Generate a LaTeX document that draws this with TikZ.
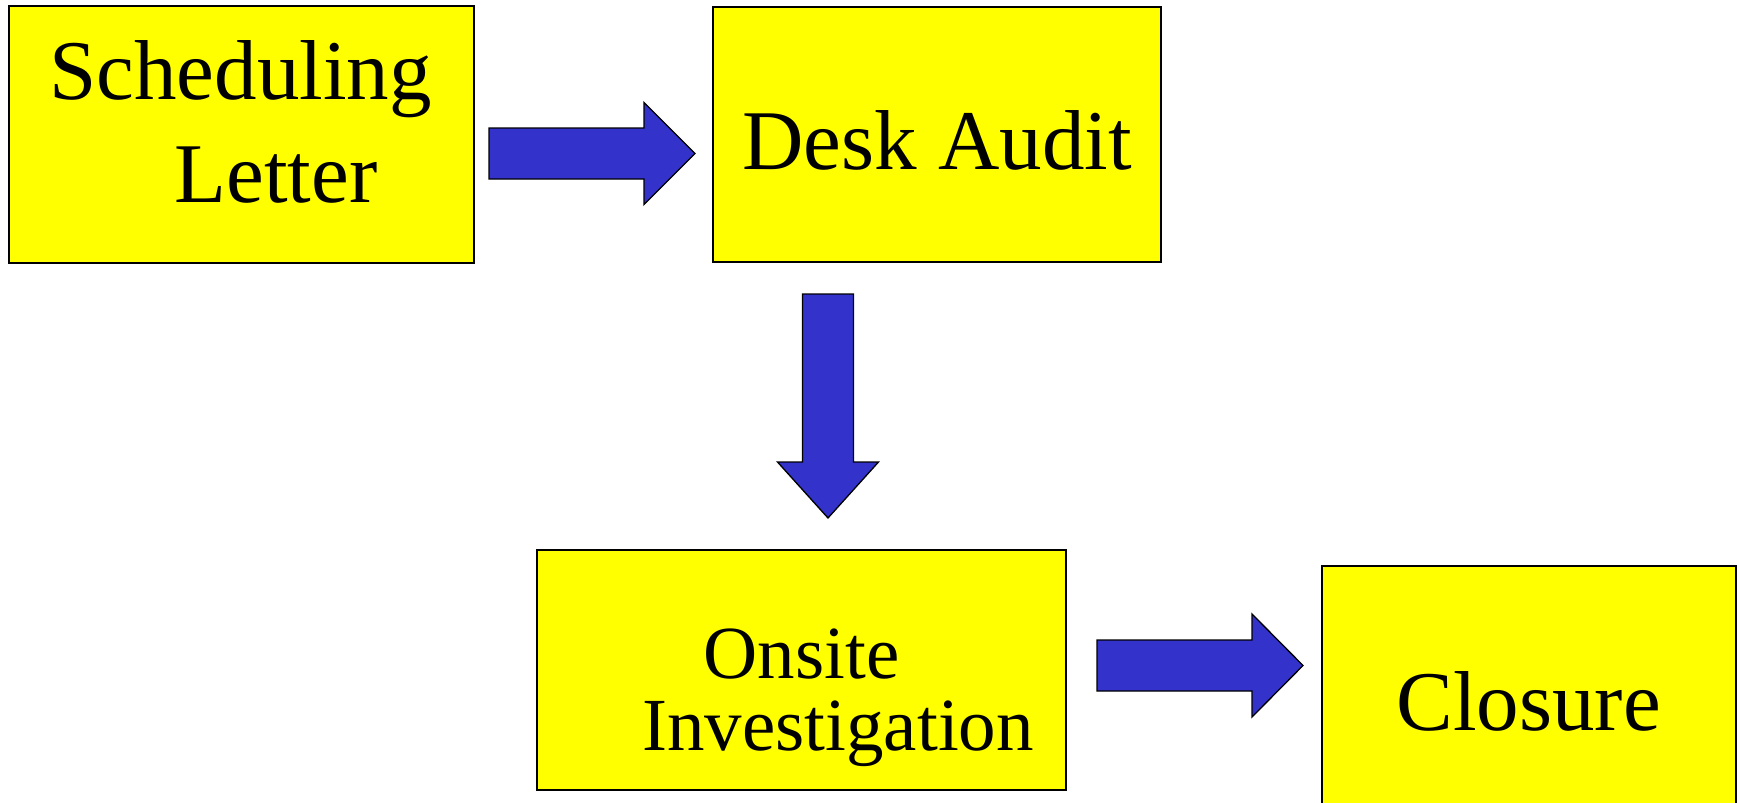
\documentclass[tikz,border=0pt]{standalone}
\usepackage{fontspec}
\setmainfont{Liberation Serif}
\usetikzlibrary{calc}
\definecolor{arrowblue}{RGB}{51,51,204}
\definecolor{boxyellow}{RGB}{255,255,0}
\begin{document}
\begin{tikzpicture}[x=1pt,y=-1pt,
  box/.style={draw=black, fill=boxyellow, line width=1.5pt, inner sep=0pt, outer sep=0pt, anchor=north west, rectangle},
  barrow/.style={draw=black, fill=arrowblue, line width=1.3pt, line join=miter},
  bigtext/.style={font=\fontsize{85}{102}\selectfont, inner sep=0pt, anchor=base},
  midtext/.style={font=\fontsize{75}{72}\selectfont, inner sep=0pt, anchor=base}]
\useasboundingbox (0,0) rectangle (1740,803);
\fill[white] (0,0) rectangle (1740,803);
\clip (0,0) rectangle (1740,803);
% boxes
\node[box, minimum width=465pt, minimum height=257pt] (sched) at (9,6) {};
\node[box, minimum width=448pt, minimum height=255pt] (desk) at (713,7) {};
\node[box, minimum width=529pt, minimum height=240pt] (onsite) at (537,550) {};
\node[box, minimum width=414pt, minimum height=260pt] (closure) at (1322,566) {};
% texts
\node[bigtext] (t1a) at (240.5,99) {Scheduling};
\node[bigtext] (t1b) at (276,202) {Letter};
\node[bigtext] (t2) at (937,169) {Desk Audit};
\node[midtext] (t3a) at (801.5,678) {Onsite};
\node[midtext] (t3b) at (838,750) {Investigation};
\node[bigtext] (t4) at (1528.5,730) {Closure};
% arrow tails / tips
\coordinate (a1t) at ($(sched.east)+(15,19)$);
\coordinate (a1h) at ($(desk.west)+(-18,0)$);
\coordinate (a2t) at ($(desk.south)+(-109,32)$);
\coordinate (a2h) at ($(onsite.north)+(0,-32)$);
\coordinate (a3t) at ($(onsite.east)+(31,-4.5)$);
\coordinate (a3h) at ($(closure.west)+(-19,0)$);
% arrow 1 (right)
\draw[barrow] let \p1=(a1t), \p2=(a1h) in
  (\x1,\y1+25.5pt) -- (\x2-51pt,\y1+25.5pt) -- (\x2-51pt,\y1+51pt) -- (\x2,\y1)
  -- (\x2-51pt,\y1-51pt) -- (\x2-51pt,\y1-25.5pt) -- (\x1,\y1-25.5pt) -- cycle;
% arrow 2 (down)
\draw[barrow] let \p1=(a2t), \p2=(a2h) in
  (\x1-25.5pt,\y1) -- (\x1-25.5pt,\y2+56pt) -- (\x1-50.5pt,\y2+56pt) -- (\x1,\y2)
  -- (\x1+50.5pt,\y2+56pt) -- (\x1+25.5pt,\y2+56pt) -- (\x1+25.5pt,\y1) -- cycle;
% arrow 3 (right)
\draw[barrow] let \p1=(a3t), \p2=(a3h) in
  (\x1,\y1+25.5pt) -- (\x2-51pt,\y1+25.5pt) -- (\x2-51pt,\y1+51.5pt) -- (\x2,\y1)
  -- (\x2-51pt,\y1-51.5pt) -- (\x2-51pt,\y1-25.5pt) -- (\x1,\y1-25.5pt) -- cycle;
\end{tikzpicture}
\end{document}
